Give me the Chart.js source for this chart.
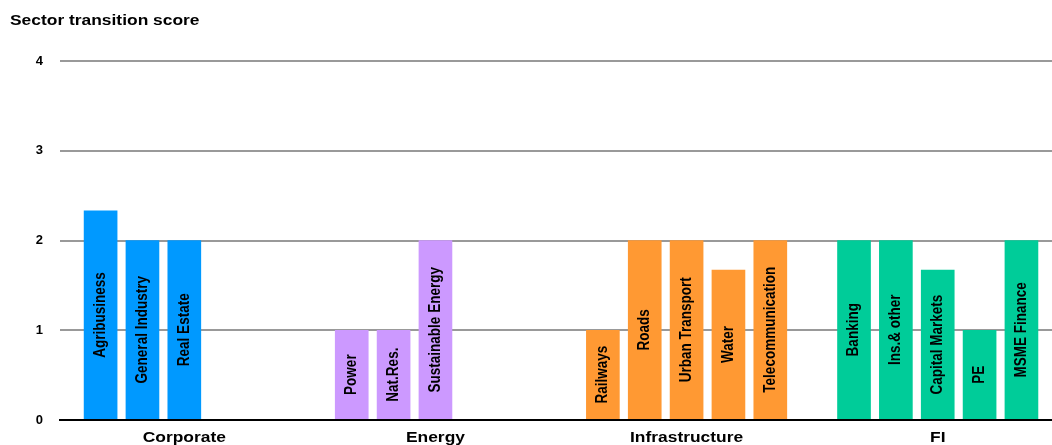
<!DOCTYPE html>
<html>
<head>
<meta charset="utf-8">
<script src="https://cdn.jsdelivr.net/npm/chart.js"></script>
<style>
  body { margin: 0; background: #fff; }
</style>
</head>
<body>
<canvas id="myChart" width="1052" height="445"></canvas>
<script>
const groups = ["Corporate", "Energy", "Infrastructure", "FI"];
const groupColors = ["#0099FF", "#CC99FF", "#FF9933", "#00CC99"];
const sectors = ["Agribusiness", "General Industry", "Real Estate",
  "Power", "Nat.Res.", "Sustainable Energy",
  "Railways", "Roads", "Urban Transport", "Water", "Telecommunication",
  "Banking", "Ins.& other", "Capital Markets", "PE", "MSME Finance"];
const sectorGroup = [0, 0, 0, 1, 1, 1, 2, 2, 2, 2, 2, 3, 3, 3, 3, 3];
const scores = [2.33, 2, 2, 1, 1, 2, 1, 2, 2, 1.67, 2, 2, 2, 1.67, 1, 2];
const yTicks = [0, 1, 2, 3, 4];

// every group gets 6 slots on the x axis, the label sits on the 3rd one
const slotsPerGroup = 6;
let positions = [];
let count = [0, 0, 0, 0];
for (let i = 0; i < sectors.length; i++) {
  let g = sectorGroup[i];
  positions.push(g * slotsPerGroup + count[g]);
  count[g]++;
}
let points = [];
let colors = [];
for (let i = 0; i < sectors.length; i++) {
  points.push({ x: positions[i], y: scores[i] });
  colors.push(groupColors[sectorGroup[i]]);
}

// the original text looks a bit wider than Arial
const stretch = 1.16;
function drawText(ctx, text, x, y, font, align, angle) {
  ctx.save();
  ctx.translate(x, y);
  ctx.scale(stretch, 1);
  if (angle) ctx.rotate(angle);
  ctx.font = font;
  ctx.fillStyle = "#000";
  ctx.textAlign = align;
  ctx.textBaseline = "middle";
  ctx.fillText(text, 0, 0);
  ctx.restore();
}

const labelsPlugin = {
  id: "labels",
  afterDraw(chart) {
    const ctx = chart.ctx;
    drawText(ctx, "Sector transition score", 10, 21, "bold 15px 'Liberation Sans'", "left");

    const xScale = chart.scales.x;
    for (let g = 0; g < groups.length; g++) {
      let px = xScale.getPixelForValue(g * slotsPerGroup + 2);
      drawText(ctx, groups[g], px, 438, "bold 15px 'Liberation Sans'", "center");
    }

    const meta = chart.getDatasetMeta(0);
    meta.data.forEach(function (bar, i) {
      let mid = (bar.y + bar.base) / 2;
      drawText(ctx, sectors[i], bar.x, mid, "bold 13.5px 'Liberation Sans'", "center", -Math.PI / 2);
    });
  }
};

const ctx = document.getElementById("myChart").getContext("2d");
const myChart = new Chart(ctx, {
  type: "bar",
  data: {
    datasets: [
      {
        data: points,
        backgroundColor: colors,
        barThickness: 33,
        borderWidth: 0,
      },
    ],
  },
  options: {
    responsive: false,
    animation: false,
    layout: { padding: { top: 61, right: 0, left: 0, bottom: 0 } },
    plugins: {
      legend: { display: false },
      tooltip: { enabled: false },
    },
    scales: {
      x: {
        type: "linear",
        min: -0.97,
        max: 22.73,
        offset: false,
        ticks: { display: false },
        grid: { display: false, drawTicks: false, offset: false },
        border: { color: "#000", width: 2, z: 1 },
        afterFit(scale) { scale.height = 25; },
      },
      y: {
        min: 0,
        max: 4,
        afterBuildTicks(scale) {
          scale.ticks = yTicks.map(function (v) { return { value: v }; });
        },
        ticks: {
          color: "#000",
          padding: 17,
          font: { family: "'Liberation Sans'", size: 13, weight: "bold" },
        },
        grid: { color: "#999", lineWidth: 2, drawTicks: false },
        border: { display: false },
        afterFit(scale) { scale.width = 60; },
      },
    },
  },
  plugins: [labelsPlugin],
});
</script>
</body>
</html>
